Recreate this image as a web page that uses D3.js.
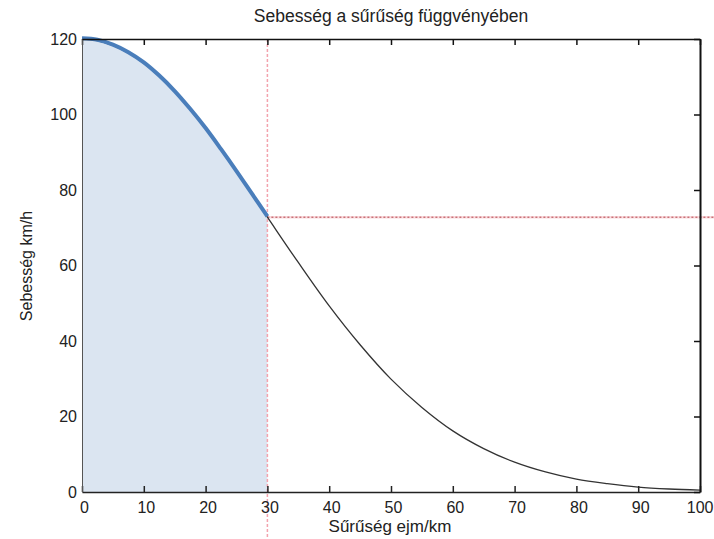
<!DOCTYPE html>
<html>
<head>
<meta charset="utf-8">
<script src="https://cdn.jsdelivr.net/npm/d3@7"></script>
<style>
  html, body { margin: 0; padding: 0; background: #fff; }
  svg { display: block; }
  text { font-family: Arial, "Liberation Sans", sans-serif; fill: #222; }
</style>
</head>
<body>
<svg id="chart" width="714" height="539"></svg>
<script>
// ---- data ----
const densities = [0, 2.5, 5, 7.5, 10, 12.5, 15, 17.5, 20, 22.5, 25, 27.5, 30,
                   35, 40, 45, 50, 55, 60, 65, 70, 75, 80, 85, 90, 95, 100];
const speeds    = [120, 119.6, 118.3, 116.3, 113.6, 110.1, 106.0, 101.3, 96.2, 90.6, 84.8, 78.8, 72.8,
                   60.8, 49.3, 39.0, 29.9, 22.4, 16.2, 11.5, 7.9, 5.3, 3.4, 2.2, 1.3, 0.8, 0.5];
const criticalDensity = 30;
const criticalSpeed = 72.8;
const xTicks = [0, 10, 20, 30, 40, 50, 60, 70, 80, 90, 100];
const yTicks = [0, 20, 40, 60, 80, 100, 120];
const titleText = "Sebesség a sűrűség függvényében";
const xLabelText = "Sűrűség ejm/km";
const yLabelText = "Sebesség km/h";

// ---- layout ----
const W = 714, H = 539;
const plot = { left: 82, right: 700, top: 39, bottom: 492 };
const svg = d3.select("#chart");

const x = d3.scaleLinear().domain([0, 100]).range([plot.left, plot.right]);
const y = d3.scaleLinear().domain([0, 120]).range([plot.bottom, plot.top]);

const pts = densities.map((d, i) => ({ k: d, v: speeds[i] }));
const leftPts = pts.filter(p => p.k <= criticalDensity);

// shaded area under curve up to critical density
svg.append("path")
  .datum(leftPts)
  .attr("d", d3.area().x(d => x(d.k)).y0(y(0)).y1(d => y(d.v)).curve(d3.curveCatmullRom))
  .attr("fill", "#dbe5f1");

// vertical dashed line at critical density
svg.append("line")
  .attr("x1", x(criticalDensity)).attr("x2", x(criticalDensity))
  .attr("y1", plot.top).attr("y2", H)
  .attr("stroke", "#f3a3ad").attr("stroke-width", 1.5).attr("stroke-dasharray", "3,2");

// horizontal dashed line at critical speed
svg.append("line")
  .attr("x1", x(criticalDensity)).attr("x2", W)
  .attr("y1", y(criticalSpeed)).attr("y2", y(criticalSpeed))
  .attr("stroke", "#f6b8be").attr("stroke-width", 2.5).attr("opacity", 0.5);
svg.append("line")
  .attr("x1", x(criticalDensity)).attr("x2", W)
  .attr("y1", y(criticalSpeed)).attr("y2", y(criticalSpeed))
  .attr("stroke", "#b04048").attr("stroke-width", 1).attr("stroke-dasharray", "2,2");

// full curve (thin black)
svg.append("path")
  .datum(pts)
  .attr("d", d3.line().x(d => x(d.k)).y(d => y(d.v)).curve(d3.curveCatmullRom))
  .attr("fill", "none").attr("stroke", "#333").attr("stroke-width", 1.3);

// highlighted part (thick blue)
svg.append("path")
  .datum(leftPts)
  .attr("d", d3.line().x(d => x(d.k)).y(d => y(d.v) - 0.8).curve(d3.curveCatmullRom))
  .attr("fill", "none").attr("stroke", "#4a7ebb").attr("stroke-width", 4)
  .attr("stroke-linecap", "butt");

// ---- axes ----
// bottom axis: ticks inward
const xAxis = svg.append("g").attr("transform", `translate(0,${plot.bottom})`)
  .call(d3.axisBottom(x).tickValues(xTicks).tickSizeInner(-6).tickSizeOuter(0).tickPadding(10));
xAxis.select(".domain").attr("stroke", "#222").attr("stroke-width", 1.5);
xAxis.selectAll(".tick line").attr("stroke", "#222").attr("stroke-width", 1.5);
xAxis.selectAll(".tick text").attr("font-size", 16).attr("fill", "#222")
  .attr("dx", 2).attr("font-family", "Arial, 'Liberation Sans', sans-serif");
// keep the last label inside the picture
xAxis.selectAll(".tick text").filter(d => d === 100)
  .attr("text-anchor", "end").attr("dx", 13);

// top axis (ticks inward, no labels)
const xTop = svg.append("g").attr("transform", `translate(0,${plot.top})`)
  .call(d3.axisTop(x).tickValues(xTicks).tickSizeInner(-6).tickSizeOuter(0).tickFormat(""));
xTop.select(".domain").attr("stroke", "#111").attr("stroke-width", 1.5);
xTop.selectAll(".tick line").attr("stroke", "#111").attr("stroke-width", 1.5);

// left axis (thin grey, labels)
const yAxis = svg.append("g").attr("transform", `translate(${plot.left},0)`)
  .call(d3.axisLeft(y).tickValues(yTicks).tickSize(0).tickPadding(5));
yAxis.select(".domain").attr("stroke", "#555").attr("stroke-width", 1);
yAxis.selectAll(".tick text").attr("font-size", 16).attr("fill", "#222")
  .attr("font-family", "Arial, 'Liberation Sans', sans-serif");

// right axis (ticks inward, no labels)
const yRight = svg.append("g").attr("transform", `translate(${plot.right},0)`)
  .call(d3.axisRight(y).tickValues(yTicks).tickSizeInner(-6).tickSizeOuter(0).tickFormat(""));
yRight.select(".domain").attr("stroke", "#111").attr("stroke-width", 2);
yRight.selectAll(".tick line").attr("stroke", "#111").attr("stroke-width", 1.5);

// ---- texts ----
svg.append("text")
  .attr("x", (plot.left + plot.right) / 2).attr("y", 22)
  .attr("text-anchor", "middle").attr("font-size", 17.5)
  .text(titleText);

svg.append("text")
  .attr("x", 390).attr("y", 532)
  .attr("text-anchor", "middle").attr("font-size", 17)
  .text(xLabelText);

svg.append("text")
  .attr("transform", `translate(32,266) rotate(-90)`)
  .attr("text-anchor", "middle").attr("font-size", 16)
  .text(yLabelText);
</script>
</body>
</html>
